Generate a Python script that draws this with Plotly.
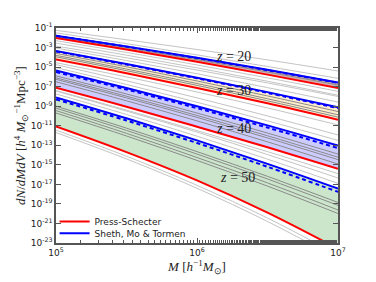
import numpy as np
import plotly.graph_objects as go

# log10(M) sample points [h^-1 Msun]
logM = [5.0, 5.5, 6.0, 6.5, 7.0]

# log10 dN/dMdV, per redshift
ps_z20 = [-2.03, -3.21, -4.46, -5.77, -7.13]
st_z20 = [-1.78, -2.88, -4.05, -5.28, -6.57]
ps_z30 = [-4.23, -5.63, -7.13, -8.71, -10.39]
st_z30 = [-3.35, -4.68, -6.08, -7.56, -9.12]
ps_z40 = [-7.11, -9.05, -11.10, -13.20, -15.40]
st_z40 = [-5.35, -7.13, -9.00, -10.96, -13.03]
ps_z50 = [-11.07, -13.70, -16.60, -19.90, -23.60]
st_z50 = [-8.10, -10.24, -12.50, -14.90, -17.43]

# second Sheth-Tormen variant (dashed)
st2_z20 = [-1.80, -2.91, -4.08, -5.32, -6.62]
st2_z30 = [-3.40, -4.74, -6.15, -7.64, -9.21]
st2_z40 = [-5.50, -7.30, -9.20, -11.19, -13.29]
st2_z50 = [-8.30, -10.47, -12.77, -15.20, -17.77]

# other fits (thin grey)
grey_light_z20 = [[-1.24, -2.20, -3.20, -4.26, -5.40], [-1.49, -2.60, -3.75, -4.94, -6.15],
                  [-2.30, -3.50, -4.78, -6.10, -7.48], [-2.55, -3.78, -5.08, -6.45, -7.88]]
grey_dark_z20 = [[-1.90, -3.03, -4.24, -5.50, -6.83]]
grey_light_z30 = [[-2.85, -4.05, -5.30, -6.62, -8.00], [-3.05, -4.33, -5.68, -7.10, -8.58],
                  [-4.55, -6.00, -7.55, -9.18, -10.92]]
grey_dark_z30 = [[-3.60, -4.97, -6.42, -7.95, -9.55], [-3.80, -5.20, -6.68, -8.24, -9.88],
                 [-3.95, -5.37, -6.87, -8.45, -10.12]]
grey_light_z40 = [[-4.75, -6.40, -8.15, -10.00, -11.95], [-5.05, -6.78, -8.60, -10.50, -12.50],
                  [-7.40, -9.40, -11.50, -13.65, -15.90]]
grey_dark_z40 = [[-5.90, -7.75, -9.70, -11.75, -13.90], [-6.10, -7.98, -9.95, -12.03, -14.22],
                 [-6.25, -8.15, -10.15, -12.25, -14.47], [-6.50, -8.45, -10.50, -12.65, -14.92]]
grey_light_z50 = [[-7.45, -9.50, -11.65, -13.95, -16.35], [-7.75, -9.85, -12.07, -14.42, -16.90],
                  [-11.45, -14.12, -17.10, -20.45, -24.20], [-11.70, -14.40, -17.40, -20.80, -24.60]]
grey_dark_z50 = [[-9.00, -11.25, -13.65, -16.18, -18.85], [-9.20, -11.48, -13.90, -16.45, -19.15],
                 [-9.45, -11.78, -14.25, -16.85, -19.62], [-9.70, -12.05, -14.55, -17.18, -19.98]]

redshifts = ["20", "30", "40", "50"]
label_pos_logM = [6.26, 6.26, 6.26, 6.29]
label_pos_logN = [-3.93, -7.4, -11.3, -16.3]

y_tick_exps = list(range(-1, -24, -2))
x_tick_exps = [5, 6, 7]

groups = [
    (ps_z20, st_z20, st2_z20, grey_light_z20, grey_dark_z20, "rgba(130,30,30,0.35)"),
    (ps_z30, st_z30, st2_z30, grey_light_z30, grey_dark_z30, "rgba(255,165,0,0.2)"),
    (ps_z40, st_z40, st2_z40, grey_light_z40, grey_dark_z40, "rgba(0,0,255,0.2)"),
    (ps_z50, st_z50, st2_z50, grey_light_z50, grey_dark_z50, "rgba(0,128,0,0.2)"),
]

M = [10 ** v for v in logM]
def p(arr):
    return [10 ** v for v in arr]

fig = go.Figure()
for gi, (ps, st, st2, gl, gd, fc) in enumerate(groups):
    fig.add_trace(go.Scatter(x=M, y=p(ps), mode="lines", line=dict(width=0, shape="spline"),
                             showlegend=False, hoverinfo="skip"))
    fig.add_trace(go.Scatter(x=M, y=p(st), mode="lines", line=dict(width=0, shape="spline"),
                             fill="tonexty", fillcolor=fc, showlegend=False, hoverinfo="skip"))
for gi, (ps, st, st2, gl, gd, fc) in enumerate(groups):
    for g in gl:
        fig.add_trace(go.Scatter(x=M, y=p(g), mode="lines",
                                 line=dict(color="#c4c4c4", width=1, shape="spline"), showlegend=False))
    for g in gd:
        fig.add_trace(go.Scatter(x=M, y=p(g), mode="lines",
                                 line=dict(color="#8a8a8a", width=1, shape="spline"), showlegend=False))
    fig.add_trace(go.Scatter(x=M, y=p(ps), mode="lines", name="Press-Schecter", legend="legend",
                             line=dict(color="#ff0000", width=2, shape="spline"), showlegend=(gi == 0)))
    fig.add_trace(go.Scatter(x=M, y=p(st), mode="lines", name="Sheth, Mo & Tormen", legend="legend2",
                             line=dict(color="#0000ff", width=2, shape="spline"), showlegend=(gi == 0)))
    fig.add_trace(go.Scatter(x=M, y=p(st2), mode="lines",
                             line=dict(color="#0000ff", width=2, dash="4px,3px", shape="spline"), showlegend=False))

for z, lm, ln in zip(redshifts, label_pos_logM, label_pos_logN):
    fig.add_annotation(x=lm, y=ln, xref="x", yref="y", text="<i>z</i> = " + z, showarrow=False,
                       font=dict(family="Liberation Serif", size=14, color="#222"))

axis_common = dict(showline=True, linecolor="#555", linewidth=1.5, mirror="ticks", ticks="inside",
                   tickcolor="#555", showgrid=False, zeroline=False,
                   tickfont=dict(family="DejaVu Sans", size=9, color="#222"))
fig.update_xaxes(type="log", range=[5, 7], tickvals=[10 ** e for e in x_tick_exps],
                 ticktext=["10<sup>%d</sup>" % e for e in x_tick_exps], ticklen=5,
                 minor=dict(ticks="inside", ticklen=3, tickcolor="#555", showgrid=False),
                 title=dict(text="<i>M</i> [<i>h</i><sup>−1</sup><i>M</i><sub>⊙</sub>]",
                            font=dict(family="Liberation Serif", size=13, color="#222"), standoff=3),
                 **axis_common)
fig.update_yaxes(type="log", range=[-23, -1], tickvals=[10 ** e for e in y_tick_exps],
                 ticktext=["10<sup>%d</sup>" % e for e in y_tick_exps], ticklen=5,
                 title=dict(text="<i>dN</i>/<i>dMdV</i> [<i>h</i><sup>4</sup> <i>M</i><sub>⊙</sub><sup>−1</sup>Mpc<sup>−3</sup>]",
                            font=dict(family="Liberation Serif", size=13, color="#222"), standoff=2),
                 **axis_common)
leg_common = dict(xanchor="left", yanchor="middle", bgcolor="rgba(0,0,0,0)",
                  font=dict(family="DejaVu Sans", size=9, color="#222"), itemwidth=30)
# page body has an 8px margin, so the figure is shrunk and margins compensated
fig.update_layout(width=368, height=274, margin=dict(l=39, r=38, t=20, b=29),
                  paper_bgcolor="white", plot_bgcolor="white",
                  legend=dict(x=-0.005, y=0.1, **leg_common),
                  legend2=dict(x=-0.005, y=0.045, **leg_common))
fig.write_html("out.html")
